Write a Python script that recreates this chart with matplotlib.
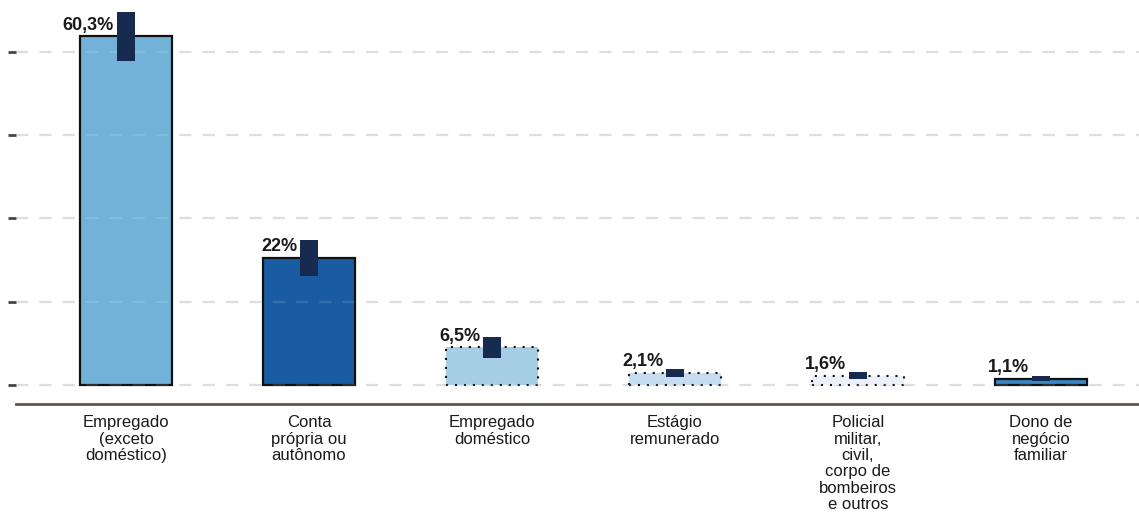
import matplotlib.pyplot as plt
import numpy as np

plt.rcParams['font.family'] = ['Liberation Sans', 'DejaVu Sans']

# data
categorias = ['Empregado\n(exceto\ndoméstico)', 'Conta\nprópria ou\nautônomo',
              'Empregado\ndoméstico', 'Estágio\nremunerado',
              'Policial\nmilitar,\ncivil,\ncorpo de\nbombeiros\ne outros',
              'Dono de\nnegócio\nfamiliar']
valores = [60.3, 22.0, 6.5, 2.1, 1.6, 1.1]
rotulos = ['60,3%', '22%', '6,5%', '2,1%', '1,6%', '1,1%']
erro = [4.25, 3.1, 1.8, 0.66, 0.66, 0.5]
cores = ['#72b2d8', '#1a5ca3', '#a6cfe5', '#c6dcf0', '#eaf1fa', '#3a87c7']
estilos = ['solid', 'solid', 'dotted', 'dotted', 'dotted', 'solid']
grade = [0, 14.4, 28.8, 43.2, 57.6]

fig = plt.figure(figsize=(11.39, 5.21), dpi=100)
ax = fig.add_axes([16/1139, 117/521, 1 - 16/1139, 404/521])

x = np.arange(len(valores))

#grid lines, faintly visible over the bars too
for g in grade:
    ax.axhline(g, color='#dadada', linewidth=1.6, linestyle=(0, (5.5, 5)), zorder=1)
    ax.axhline(g, color='#ffffff', alpha=0.12, linewidth=1.6, linestyle=(0, (5.5, 5)), zorder=2.5)

for i in range(len(valores)):
    if estilos[i] == 'solid':
        ax.bar(x[i], valores[i], width=0.5, color=cores[i], edgecolor='#111111',
               linewidth=1.6, zorder=2)
    else:
        ax.bar(x[i], valores[i], width=0.5, color=cores[i], edgecolor='#111111',
               linewidth=1.5, linestyle=(0, (1, 3.3)), zorder=2)
    # error range as a thick block
    ax.bar(x[i], 2*erro[i], bottom=valores[i]-erro[i], width=0.1,
           color='#172a4f', edgecolor='none', zorder=3)
    ax.annotate(rotulos[i], (x[i] - 0.05, valores[i]), xytext=(-2, 2),
                textcoords='offset points', ha='right', va='bottom',
                fontsize=13, fontweight='bold', color='#1a1a1a', zorder=4)

ax.set_xlim(-0.601, 5.536)
ax.set_ylim(-3.3, 66.6)
ax.set_xticks(x)
ax.set_xticklabels(categorias, fontsize=12, color='#1a1a1a', linespacing=1.12)
ax.tick_params(axis='x', length=0, pad=8)
ax.set_yticks(grade)
ax.set_yticklabels([])
ax.tick_params(axis='y', length=6, width=2, color='#4a4440', direction='out')
ax.set_facecolor('none')
for s in ['top', 'right', 'left']:
    ax.spines[s].set_visible(False)
ax.spines['bottom'].set_color('#5e554c')
ax.spines['bottom'].set_linewidth(2)

plt.savefig('out.png', dpi=100)
